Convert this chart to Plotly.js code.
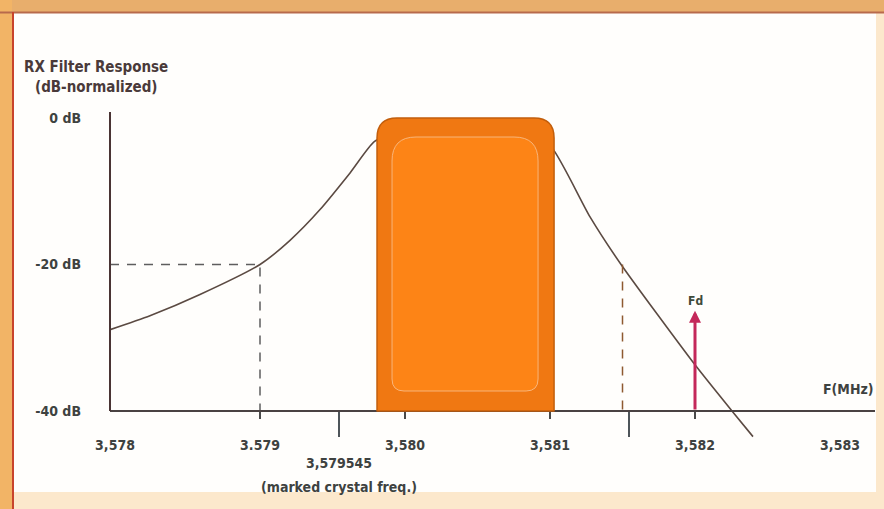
<!DOCTYPE html>
<html>
<head>
<meta charset="utf-8">
<script src="https://cdn.plot.ly/plotly-3.0.1.min.js"></script>
<style>html,body{margin:0;padding:0;background:#fff;}#chart{width:884px;height:509px;}</style>
</head>
<body>
<div id="chart"></div>
<script>
// ---- data ----
const freqMHz    = [3.577966, 3.578241, 3.578586, 3.579000, 3.579207, 3.579414, 3.579621, 3.579790, 3.579950, 3.580400, 3.580880, 3.581014, 3.581276, 3.581490, 3.582000, 3.582255, 3.582400];
const responseDb = [-28.9,    -27.0,    -24.1,    -20.0,    -16.7,    -12.5,    -7.5,     -3.2,     -2.0,     -2.0,     -2.5,     -4.1,     -13.5,    -20.0,    -33.7,    -40.0,    -43.5];

const xTickVals  = [3.578, 3.579, 3.580, 3.581, 3.582, 3.583];
const xTickText  = ['3,578', '3.579', '3,580', '3,581', '3,582', '3,583'];
const xMarkVals  = [3.579, 3.580, 3.581, 3.582];
const yTickVals  = [0, -20, -40];
const yTickText  = ['0 dB', '-20 dB', '-40 dB'];

const crystalMHz   = [3.579545, 3.581545];
const crystalText  = ['3,579545', ''];
const crystalNote  = '(marked crystal freq.)';

const passbandMHz  = [3.579807, 3.581028];
const passbandDb   = [-40, 0];

const refDb        = -20;
const floorDb      = -40;
const refLowMHz    = 3.579;
const refHighMHz   = 3.5815;

const fdMHz        = 3.582;
const fdTopDb      = -26.3;
const fdLabel      = 'Fd';

// ---- layout helpers ----
const W = 884, H = 509;
const M = {l:110, r:9, t:112, b:49};
const PW = W - M.l - M.r, PH = H - M.t - M.b;
const xRange = [3.5779655, 3.5832414];
const yRange = [-46.69, 0.82];
const dxPx = (xRange[1]-xRange[0]) / PW;
const dyPx = (yRange[1]-yRange[0]) / PH;
const px = p => (p - M.l) / PW;
const py = p => (M.t + PH - p) / PH;
const axisPos = (floorDb - yRange[0]) / (yRange[1]-yRange[0]);

const FONT = "'DejaVu Sans Condensed', 'Liberation Sans Narrow', 'DejaVu Sans', sans-serif";
const TXT = '#3e4240';

function roundedTop(x0, x1, y0, y1, rt, rb) {
  const rxT = rt*dxPx, ryT = rt*dyPx, rxB = rb*dxPx, ryB = rb*dyPx;
  return `M${x0+rxB},${y0} Q${x0},${y0} ${x0},${y0+ryB} L${x0},${y1-ryT} Q${x0},${y1} ${x0+rxT},${y1} ` +
         `L${x1-rxT},${y1} Q${x1},${y1} ${x1},${y1-ryT} L${x1},${y0+ryB} Q${x1},${y0} ${x1-rxB},${y0} Z`;
}

const outerPath = roundedTop(passbandMHz[0], passbandMHz[1], passbandDb[0], passbandDb[1], 20, 0.01);
const innerPath = roundedTop(passbandMHz[0] + 15*dxPx, passbandMHz[1] - 16*dxPx,
                             passbandDb[0] + 20*dyPx, passbandDb[1] - 19*dyPx, 24, 12);

const traces = [
  {x: freqMHz, y: responseDb, type: 'scatter', mode: 'lines',
   line: {color: '#5b4a42', width: 1.6, shape: 'spline', smoothing: 0.6},
   hoverinfo: 'skip', showlegend: false},
  {x: [xRange[0], refLowMHz, refLowMHz], y: [refDb, refDb, floorDb], type: 'scatter', mode: 'lines',
   line: {color: '#5e5e5e', width: 1.5, dash: '9px,8px'}, hoverinfo: 'skip', showlegend: false},
  {x: [refHighMHz, refHighMHz], y: [refDb, floorDb], type: 'scatter', mode: 'lines',
   line: {color: '#8e5a30', width: 1.5, dash: '9px,8px'}, hoverinfo: 'skip', showlegend: false},
  // invisible traces to activate the extra tick axes
  {x:[crystalMHz[0]], y:[floorDb], xaxis:'x2', type:'scatter', mode:'markers', marker:{opacity:0}, hoverinfo:'skip', showlegend:false},
  {x:[crystalMHz[0]], y:[floorDb], xaxis:'x3', type:'scatter', mode:'markers', marker:{opacity:0}, hoverinfo:'skip', showlegend:false}
];

const shapes = [
  // frame
  {type:'rect', xref:'paper', yref:'paper', x0:px(14), x1:px(876), y0:py(492), y1:py(13), fillcolor:'#fffefc', line:{width:0}, layer:'below'},
  {type:'rect', xref:'paper', yref:'paper', x0:px(0), x1:px(884), y0:py(12), y1:py(0), fillcolor:'#e8ae6c', line:{width:0}, layer:'below'},
  {type:'rect', xref:'paper', yref:'paper', x0:px(0), x1:px(12), y0:py(509), y1:py(0), fillcolor:'#f2b466', line:{width:0}, layer:'below'},
  {type:'line', xref:'paper', yref:'paper', x0:px(0), x1:px(884), y0:py(12.5), y1:py(12.5), line:{color:'#b86a4c', width:2}, layer:'below'},
  {type:'line', xref:'paper', yref:'paper', x0:px(13), x1:px(13), y0:py(12), y1:py(509), line:{color:'#c8442c', width:2}, layer:'below'},
  // y axis line
  {type:'line', xref:'paper', yref:'y', x0:0, x1:0, y0:floorDb, y1:yRange[1], line:{color:'#4a3434', width:2}},
  // passband box
  {type:'path', xref:'x', yref:'y', path: outerPath, fillcolor:'#f07812', line:{color:'#c25e0c', width:1.5}, layer:'above'},
  {type:'path', xref:'x', yref:'y', path: innerPath, fillcolor:'#fd8416', line:{color:'rgba(248,190,140,0.85)', width:1}, layer:'above'}
];

const annotations = [
  {xref:'paper', yref:'paper', x:px(96), y:py(67), xanchor:'center', yanchor:'middle', text:'RX Filter Response', showarrow:false,
   font:{family:FONT, size:15, color:'#4a3a3a', weight:'bold'}},
  {xref:'paper', yref:'paper', x:px(96), y:py(87), xanchor:'center', yanchor:'middle', text:'(dB-normalized)', showarrow:false,
   font:{family:FONT, size:15, color:'#4a3a3a', weight:'bold'}},
  {xref:'paper', yref:'paper', x:px(876), y:py(389), xanchor:'right', yanchor:'middle', text:'F(MHz)', showarrow:false,
   font:{family:FONT, size:14, color:TXT, weight:'bold'}},
  {xref:'x', yref:'paper', x:crystalMHz[0], y:py(487), xanchor:'center', yanchor:'middle', text:crystalNote, showarrow:false,
   font:{family:FONT, size:14, color:TXT, weight:'bold'}},
  {xref:'x', yref:'y', x:fdMHz, y:fdTopDb, ax:fdMHz, ay:floorDb, axref:'x', ayref:'y', text:'',
   showarrow:true, arrowhead:2, arrowsize:0.8, arrowwidth:3, arrowcolor:'#c4285a'},
  {xref:'x', yref:'y', x:fdMHz, y:fdTopDb, xanchor:'center', yanchor:'bottom', yshift:1, text:fdLabel, showarrow:false,
   font:{family:FONT, size:12, color:'#3e4a3a', weight:'bold'}}
];

const tickFont = {family:FONT, size:14, color:TXT, weight:'bold'};

const layout = {
  width: W, height: H,
  margin: M,
  paper_bgcolor: '#fce8cc',
  plot_bgcolor: 'rgba(0,0,0,0)',
  showlegend: false,
  xaxis: {range: xRange, anchor:'free', position: axisPos, showgrid:false, zeroline:false,
          showline:true, linecolor:'#4a4242', linewidth:2,
          tickmode:'array', tickvals:xTickVals, ticktext:xTickText,
          ticks:'', ticklabelstandoff: 21,
          tickfont:tickFont, fixedrange:true},
  xaxis2: {range: xRange, overlaying:'x', anchor:'free', position: axisPos, side:'bottom',
           showgrid:false, zeroline:false, showline:false, showticklabels:false,
           tickmode:'array', tickvals:xMarkVals,
           ticks:'outside', ticklen:7, tickwidth:1.5, tickcolor:'#4a4a4a', fixedrange:true},
  xaxis3: {range: xRange, overlaying:'x', anchor:'free', position: axisPos, side:'bottom',
           showgrid:false, zeroline:false, showline:false,
           tickmode:'array', tickvals:crystalMHz, ticktext:crystalText,
           ticks:'outside', ticklen:25, tickwidth:2.5, tickcolor:'#4e555a', ticklabelstandoff: 14,
           tickfont:tickFont, fixedrange:true},
  yaxis: {range: yRange, showgrid:false, zeroline:false, showline:false,
          tickmode:'array', tickvals:yTickVals, ticktext:yTickText, ticks:'',
          ticklabelstandoff: 28,
          tickfont:tickFont, fixedrange:true},
  shapes: shapes,
  annotations: annotations
};

Plotly.newPlot('chart', traces, layout, {displayModeBar:false, staticPlot:true});
</script>
</body>
</html>
